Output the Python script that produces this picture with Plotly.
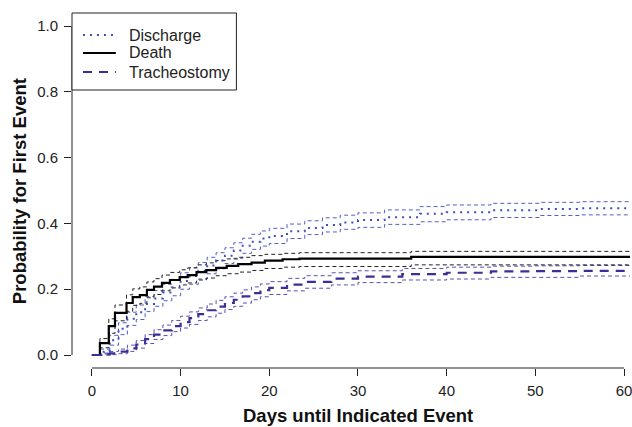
import plotly.graph_objects as go

# ---------------- data ----------------
death_t = [0, 0.9, 1.9, 2.6, 3.9, 4.6, 5.4, 6.2, 7.0, 7.9, 8.8, 9.9, 10.8, 11.8, 12.9,
           14.0, 15.2, 16.5, 18.0, 19.5, 21.5, 23.4, 36.0, 61]
death_v = [0, 0.036, 0.088, 0.128, 0.158, 0.176, 0.182, 0.198, 0.208, 0.219, 0.228, 0.237,
           0.243, 0.252, 0.258, 0.265, 0.271, 0.276, 0.281, 0.287, 0.291, 0.293, 0.298, 0.298]
death_hi = [0, 0.050, 0.110, 0.152, 0.183, 0.201, 0.207, 0.222, 0.232, 0.243, 0.251, 0.259,
            0.265, 0.274, 0.280, 0.287, 0.292, 0.297, 0.302, 0.306, 0.309, 0.311, 0.315, 0.315]
death_lo = [0, 0.022, 0.066, 0.104, 0.133, 0.151, 0.157, 0.174, 0.184, 0.195, 0.204, 0.213,
            0.219, 0.228, 0.234, 0.241, 0.247, 0.252, 0.257, 0.263, 0.267, 0.269, 0.274, 0.274]

dis_t = [0, 1, 2, 3, 4, 5, 6, 7, 8, 9, 10, 11, 12, 13, 14, 15, 16, 17, 18, 19, 20,
         22, 24, 26, 28, 30, 33, 37, 40, 45, 50.5, 55, 61]
dis_v = [0, 0.010, 0.045, 0.080, 0.110, 0.130, 0.155, 0.172, 0.190, 0.205, 0.225, 0.240,
         0.256, 0.272, 0.287, 0.302, 0.318, 0.332, 0.344, 0.354, 0.362, 0.376, 0.386, 0.395,
         0.403, 0.410, 0.419, 0.429, 0.434, 0.440, 0.444, 0.446, 0.447]
dis_hi = [0, 0.018, 0.060, 0.098, 0.130, 0.152, 0.178, 0.196, 0.215, 0.230, 0.250, 0.265,
          0.281, 0.297, 0.311, 0.326, 0.341, 0.355, 0.367, 0.377, 0.385, 0.398, 0.408, 0.417,
          0.425, 0.432, 0.441, 0.451, 0.456, 0.461, 0.464, 0.466, 0.467]
dis_lo = [0, 0.003, 0.030, 0.062, 0.090, 0.108, 0.132, 0.148, 0.165, 0.180, 0.200, 0.215,
          0.231, 0.247, 0.262, 0.278, 0.294, 0.309, 0.321, 0.331, 0.339, 0.354, 0.366, 0.374,
          0.382, 0.388, 0.397, 0.405, 0.411, 0.418, 0.424, 0.426, 0.427]

tr_t = [0, 1, 2, 3, 4, 5, 6, 7, 8, 9, 10, 11, 12, 13, 14, 15, 16, 17, 18, 19, 20,
        22, 24, 27, 30, 35, 40, 45, 50, 55, 61]
tr_v = [0, 0.002, 0.005, 0.010, 0.020, 0.032, 0.048, 0.062, 0.075, 0.088, 0.100, 0.112,
        0.124, 0.136, 0.147, 0.158, 0.168, 0.178, 0.188, 0.197, 0.204, 0.214, 0.222, 0.232,
        0.238, 0.246, 0.250, 0.254, 0.255, 0.256, 0.256]
tr_hi = [0, 0.006, 0.011, 0.018, 0.030, 0.044, 0.062, 0.077, 0.091, 0.105, 0.118, 0.131,
         0.143, 0.155, 0.166, 0.177, 0.188, 0.198, 0.207, 0.216, 0.223, 0.233, 0.241, 0.250,
         0.256, 0.263, 0.267, 0.270, 0.271, 0.272, 0.272]
tr_lo = [0, 0.000, 0.001, 0.004, 0.011, 0.021, 0.035, 0.047, 0.059, 0.071, 0.082, 0.093,
         0.105, 0.116, 0.127, 0.138, 0.148, 0.158, 0.168, 0.177, 0.184, 0.195, 0.203, 0.213,
         0.220, 0.228, 0.231, 0.236, 0.236, 0.240, 0.240]

x_ticks = [0, 10, 20, 30, 40, 50, 60]
y_ticks = [0.0, 0.2, 0.4, 0.6, 0.8, 1.0]
y_tick_text = ["0.0", "0.2", "0.4", "0.6", "0.8", "1.0"]

legend_labels = ["Discharge", "Death", "Tracheostomy"]

# ---------------- styles ----------------
C_DIS = "#3b4fc2"
C_DIS_CI = "#4f60c6"
C_DEATH = "#000000"
C_DEATH_CI = "#222222"
C_TR = "#3a2e98"
C_TR_CI = "#5850b6"
FONT = "Liberation Sans, Arial, sans-serif"

DIS_LINE = dict(color=C_DIS, width=2, dash="2px,5px")
DEATH_LINE = dict(color=C_DEATH, width=2.2)
TR_LINE = dict(color=C_TR, width=2.2, dash="9px,7px")

W, H = 632, 427
L, R, T, B = 72, 0, 13, 59
PW, PH = W - L - R, H - T - B


def px(xp):
    return (xp - L) / PW


def py(yp):
    return (H - B - yp) / PH


fig = go.Figure()


def ci(t, v, color):
    fig.add_trace(go.Scatter(x=t, y=v, mode="lines", line_shape="hv",
                             line=dict(color=color, width=1, dash="4px,3px"),
                             showlegend=False, hoverinfo="skip"))


ci(dis_t, dis_hi, C_DIS_CI)
ci(dis_t, dis_lo, C_DIS_CI)
ci(tr_t, tr_hi, C_TR_CI)
ci(tr_t, tr_lo, C_TR_CI)
ci(death_t, death_hi, C_DEATH_CI)
ci(death_t, death_lo, C_DEATH_CI)

fig.add_trace(go.Scatter(x=dis_t, y=dis_v, mode="lines", line_shape="hv",
                         name=legend_labels[0], line=DIS_LINE, showlegend=False))
fig.add_trace(go.Scatter(x=death_t, y=death_v, mode="lines", line_shape="hv",
                         name=legend_labels[1], line=DEATH_LINE, showlegend=False))
fig.add_trace(go.Scatter(x=tr_t, y=tr_v, mode="lines", line_shape="hv",
                         name=legend_labels[2], line=TR_LINE, showlegend=False))

shapes = []
# R-style axis lines spanning first to last tick
shapes.append(dict(type="line", xref="paper", yref="y", x0=0, x1=0, y0=0, y1=1,
                   line=dict(color="#222", width=1)))
shapes.append(dict(type="line", xref="x", yref="paper", x0=0, x1=60, y0=0, y1=0,
                   line=dict(color="#222", width=1)))

# legend box (R style)
shapes.append(dict(type="rect", xref="paper", yref="paper", x0=0, x1=px(237),
                   y0=py(90), y1=1, line=dict(color="#222", width=1),
                   fillcolor="white", layer="above"))
annotations = []
for lab, line, yrow in zip(legend_labels, [DIS_LINE, DEATH_LINE, TR_LINE], [35, 53, 72]):
    shapes.append(dict(type="line", xref="paper", yref="paper", x0=px(83), x1=px(116),
                       y0=py(yrow), y1=py(yrow), line=line, layer="above"))
    annotations.append(dict(text=lab, xref="paper", yref="paper", x=px(127), y=py(yrow),
                            xanchor="left", yanchor="middle", showarrow=False,
                            font=dict(size=16, color="#222")))

annotations.append(dict(text="<b>Days until Indicated Event</b>", xref="paper", yref="paper",
                        x=px(359), y=py(415), xanchor="center", yanchor="middle",
                        showarrow=False, font=dict(size=18.5, color="#111")))
annotations.append(dict(text="<b>Probability for First Event</b>", xref="paper", yref="paper",
                        x=px(19), y=py(191), xanchor="center", yanchor="middle",
                        textangle=-90, showarrow=False, font=dict(size=18.5, color="#111")))

fig.update_layout(
    width=W, height=H,
    margin=dict(l=L, r=R, t=T, b=B),
    paper_bgcolor="white", plot_bgcolor="white",
    font=dict(family=FONT, color="#222", size=15),
    showlegend=False,
    xaxis=dict(range=[-2.247, 60.674], tickvals=x_ticks, ticks="outside", ticklen=7,
               tickcolor="#222", showgrid=False, zeroline=False, showline=False,
               tickfont=dict(size=15), ticklabelstandoff=2, ticklabeloverflow="allow"),
    yaxis=dict(range=[-0.0395, 1.0395], tickvals=y_ticks, ticktext=y_tick_text,
               ticks="outside", ticklen=7, tickcolor="#222", showgrid=False,
               zeroline=False, showline=False, tickfont=dict(size=15),
               ticklabelstandoff=3),
    shapes=shapes,
    annotations=annotations,
)

fig.write_html("out.html", config={"displayModeBar": False},
               post_script="document.body.style.margin='0';")
